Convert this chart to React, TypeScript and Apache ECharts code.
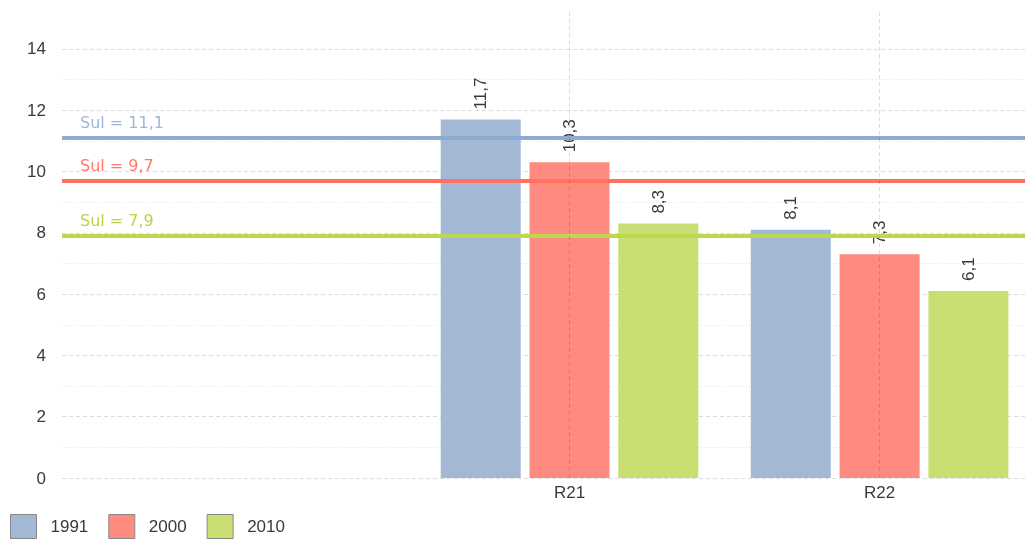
import React, { useEffect, useRef } from "react";
import * as echarts from "echarts";

const CATEGORIES = ["R21", "R22"];
const YEARS = ["1991", "2000", "2010"];
const V1991 = [11.7, 8.1];
const V2000 = [10.3, 7.3];
const V2010 = [8.3, 6.1];
const SUL = [11.1, 9.7, 7.9];
const Y_TICKS_STEP = 2;
const MINOR_GRID = [1, 3, 5, 7, 9, 11, 13];

const BAR_COLORS = ["#a3b8d4", "#ff8a7f", "#c9df74"];
const LINE_COLORS = ["#8eaad0", "#ff7262", "#bcd84e"];
const SUL_TEXT = ["#9fb6d6", "#ff7a6b", "#b7d548"];

const fmt = (v: number) => String(v).replace(".", ",");

export default function App() {
  const ref = useRef<HTMLDivElement>(null);
  useEffect(() => {
    const chart = echarts.init(ref.current!, undefined, { renderer: "svg" });
    const values = [V1991, V2000, V2010];
    const axisFont = "'Liberation Sans', Arial, sans-serif";
    const barSeries = YEARS.map((y, si) => ({
      name: y,
      type: "bar",
      barWidth: 80,
      barGap: "11%",
      z: 2,
      itemStyle: { color: BAR_COLORS[si] },
      data: values[si].map((v, i) => [i, v]),
      label: {
        show: true,
        position: "top",
        rotate: 90,
        align: "left",
        verticalAlign: "middle",
        distance: 10,
        color: "#3a3a3a",
        fontSize: 17,
        fontFamily: axisFont,
        formatter: (p: any) => fmt(p.value[1]),
      },
      markLine: {
        silent: true,
        symbol: "none",
        z: 6,
        lineStyle: { color: LINE_COLORS[si], width: 4, type: "solid" },
        label: {
          show: true,
          position: "insideStartTop",
          distance: [18, 7],
          color: SUL_TEXT[si],
          fontSize: 16,
          fontFamily: "'DejaVu Sans', sans-serif",
          formatter: () => `Sul = ${fmt(SUL[si])}`,
        },
        data: [{ yAxis: SUL[si] }],
      },
    }));

    const option: any = {
      animation: false,
      grid: { left: 62, right: 0, top: 10, bottom: 61 },
      legend: {
        data: YEARS,
        left: 10,
        top: 514,
        padding: 0,
        icon: "rect",
        itemWidth: 26,
        itemHeight: 24,
        itemGap: 20,
        itemStyle: { borderColor: "#888", borderWidth: 1 },
        textStyle: {
          fontSize: 17,
          color: "#3a3a3a",
          fontFamily: axisFont,
          padding: [0, 0, 0, 9],
        },
      },
      xAxis: {
        type: "value",
        min: -1.6366,
        max: 1.4689,
        axisLine: { show: false },
        axisTick: { show: false },
        axisLabel: { show: false },
        splitLine: { show: false },
      },
      yAxis: {
        type: "value",
        min: 0,
        max: 15.27,
        interval: Y_TICKS_STEP,
        axisLine: { show: false },
        axisTick: { show: false },
        axisLabel: {
          showMaxLabel: false,
          margin: 16,
          fontSize: 17,
          color: "#3a3a3a",
          fontFamily: axisFont,
        },
        splitLine: {
          show: true,
          showMaxLine: false,
          lineStyle: { color: "#dcdcdc", type: [4, 3], width: 1 },
        },
      },
      series: [
        {
          name: "minor",
          type: "line",
          data: [],
          z: 1,
          markLine: {
            silent: true,
            symbol: "none",
            z: 1,
            label: { show: false },
            lineStyle: { color: "#e2e2e2", type: [1, 2], width: 1 },
            data: MINOR_GRID.map((v) => ({ yAxis: v })),
          },
        },
        ...barSeries,
        {
          name: "cats",
          type: "line",
          data: [],
          z: 7,
          markLine: {
            silent: true,
            symbol: "none",
            z: 7,
            lineStyle: { color: "rgba(0,0,0,0.13)", type: [4, 3], width: 1 },
            label: {
              show: true,
              position: "start",
              distance: 6,
              color: "#3a3a3a",
              fontSize: 17,
              fontFamily: axisFont,
            },
            data: CATEGORIES.map((c, i) => ({
              xAxis: i,
              label: { formatter: c },
            })),
          },
        },
      ],
    };
    chart.setOption(option);
    return () => chart.dispose();
  }, []);
  return (
    <div
      ref={ref}
      style={{ position: "fixed", left: 0, top: 0, width: 1025, height: 539 }}
    />
  );
}
